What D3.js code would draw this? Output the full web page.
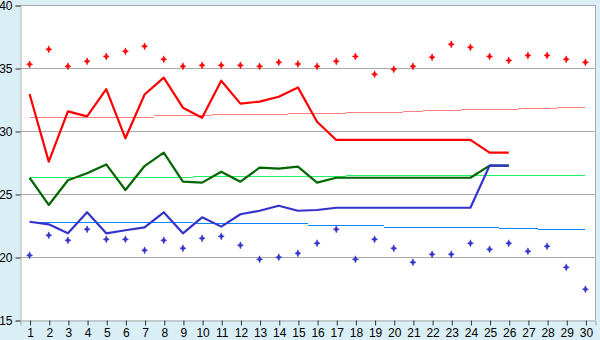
<!DOCTYPE html>
<html><head><meta charset="utf-8">
<script src="https://cdn.jsdelivr.net/npm/d3@7"></script>
<style>html,body{margin:0;padding:0;background:#d9eef5;}svg{display:block;}</style>
</head><body>
<svg id="c" width="600" height="340"></svg>
<script>
const days = d3.range(1, 31);
const yTicks = [15, 20, 25, 30, 35, 40];
const redDots = [35.29,36.48,35.13,35.53,35.92,36.32,36.72,35.69,35.13,35.21,35.21,35.21,35.13,35.45,35.32,35.13,35.53,35.92,34.5,34.9,35.13,35.85,36.88,36.64,35.92,35.6,36.0,36.0,35.69,35.45];
const redLine = [32.94,27.57,31.56,31.16,33.33,29.42,32.9,34.23,31.85,31.05,33.99,32.17,32.33,32.72,33.46,30.74,29.29,29.29,29.29,29.29,29.29,29.29,29.29,29.29,28.28,28.28];
const redTrend = [31.08,31.08,31.08,31.08,31.08,31.08,31.08,31.25,31.25,31.25,31.33,31.33,31.33,31.33,31.4,31.4,31.4,31.48,31.48,31.48,31.55,31.64,31.64,31.72,31.72,31.72,31.8,31.8,31.88,31.88];
const greenLine = [26.29,24.13,26.09,26.64,27.35,25.32,27.22,28.28,25.98,25.9,26.77,25.98,27.09,27.01,27.17,25.9,26.29,26.29,26.29,26.29,26.29,26.29,26.29,26.29,27.25,27.25];
const greenTrend = [26.32,26.32,26.32,26.32,26.32,26.32,26.32,26.32,26.32,26.4,26.4,26.4,26.4,26.4,26.4,26.4,26.4,26.48,26.48,26.48,26.48,26.48,26.48,26.48,26.48,26.48,26.48,26.48,26.48,26.48];
const blueLine = [22.8,22.59,21.88,23.55,21.88,22.12,22.35,23.55,21.88,23.15,22.41,23.39,23.67,24.07,23.67,23.73,23.91,23.91,23.91,23.91,23.91,23.91,23.91,23.91,27.25,27.25];
const blueTrend = [22.8,22.8,22.8,22.8,22.8,22.8,22.8,22.8,22.8,22.67,22.67,22.67,22.67,22.67,22.67,22.51,22.51,22.51,22.51,22.41,22.41,22.41,22.35,22.35,22.35,22.27,22.27,22.2,22.2,22.2];
const blueDots = [20.13,21.72,21.32,22.2,21.4,21.4,20.53,21.32,20.69,21.48,21.64,20.93,19.82,19.98,20.29,21.09,22.2,19.82,21.4,20.69,19.58,20.21,20.21,21.09,20.61,21.09,20.45,20.85,19.18,17.44];

const L = 20, R = 595, T = 5, B = 320;
const svg = d3.select("#c");
const x = d3.scalePoint().domain(days).range([L, R]).padding(0.5);
const y = d3.scaleLinear().domain([15, 40]).range([B, T]);
const font = "'Liberation Sans', Arial, sans-serif";
const half = x.step() / 2;

svg.append("rect").attr("x", L).attr("y", T).attr("width", R - L).attr("height", B - T)
  .attr("fill", "#ffffff");

// grid
svg.append("g").selectAll("line").data(yTicks.filter(v => v > 15)).join("line")
  .attr("x1", L).attr("x2", R).attr("y1", d => y(d) + 0.5).attr("y2", d => y(d) + 0.5)
  .attr("stroke", "#aaaaaa").attr("stroke-width", 1).attr("shape-rendering", "crispEdges");
// border right
svg.append("line").attr("x1", R + 0.5).attr("x2", R + 0.5).attr("y1", T).attr("y2", B)
  .attr("stroke", "#aaaaaa").attr("shape-rendering", "crispEdges");

// y axis
const yAxis = d3.axisLeft(y).tickValues(yTicks).tickSize(5).tickPadding(3);
const gy = svg.append("g").attr("transform", `translate(${L + 0.5},0.5)`).call(yAxis);
gy.select(".domain").attr("stroke", "#aaaaaa");
gy.selectAll(".tick line").attr("stroke", "#333333");
gy.selectAll("text").attr("font-family", font).attr("font-size", 12).attr("fill", "#000");

// x axis
const xAxis = d3.axisBottom(x).tickSize(5).tickPadding(3);
const gx = svg.append("g").attr("transform", `translate(0.5,${B + 0.5})`).call(xAxis);
gx.select(".domain").attr("stroke", "#aaaaaa");
gx.selectAll(".tick line").attr("stroke", "#333333");
gx.selectAll("text").attr("font-family", font).attr("font-size", 12).attr("fill", "#000");

const line = d3.line().x((d, i) => x(days[i])).y(d => y(d));

function trend(data, color) {
  svg.append("g").selectAll("rect").data(data).join("rect")
    .attr("x", (d, i) => i === 0 ? x(days[i]) : x(days[i]) - half)
    .attr("width", (d, i) => (i === 0 || i === data.length - 1) ? half : 2 * half)
    .attr("y", d => Math.round(y(d)))
    .attr("height", 1)
    .attr("fill", color)
    .attr("shape-rendering", "crispEdges");
}
function series(data, color) {
  svg.append("path").datum(data).attr("d", line).attr("fill", "none")
    .attr("stroke", color).attr("stroke-width", 2.2).attr("stroke-linejoin", "round");
}
const marker = "M0,-3.5L1,-1L3,0L1,1L0,3.5L-1,1L-3,0L-1,-1Z";
function dots(data, color) {
  svg.append("g").selectAll("path").data(data).join("path")
    .attr("d", marker).attr("fill", color).attr("stroke", color).attr("stroke-width", 0.6)
    .attr("transform", (d, i) => `translate(${x(days[i])},${y(d)})`);
}

trend(redTrend, "#ff8080");
trend(greenTrend, "#22ee66");
trend(blueTrend, "#0a84ff");
series(greenLine, "#006600");
series(blueLine, "#3333cc");
series(redLine, "#ff0000");
dots(redDots, "#ff0000");
dots(blueDots, "#3333cc");
</script>
</body></html>
